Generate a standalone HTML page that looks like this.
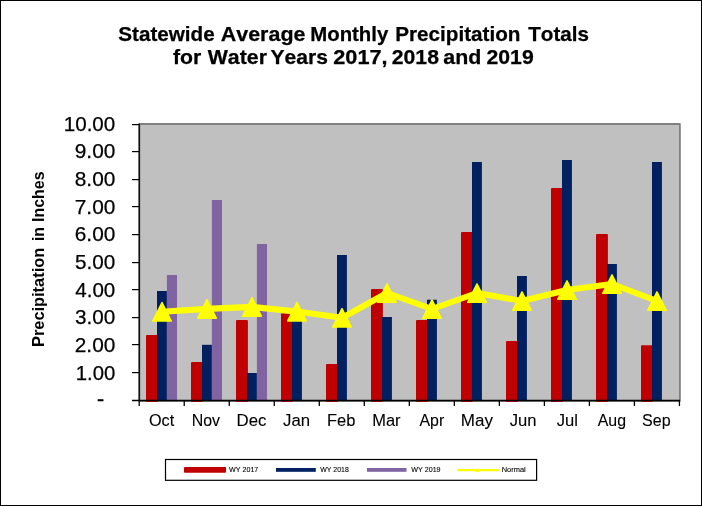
<!DOCTYPE html>
<html><head><meta charset="utf-8"><title>Statewide Average Monthly Precipitation Totals</title>
<style>html,body{margin:0;padding:0;background:#fff;overflow:hidden}svg{display:block}text{font-family:"Liberation Sans",sans-serif;font-kerning:none;fill:#000}</style></head><body>
<svg width="702" height="506" viewBox="0 0 702 506">
<rect x="0" y="0" width="702" height="506" fill="#fff"/>
<rect x="0.5" y="0.5" width="701" height="505" fill="none" stroke="#000" stroke-width="1"/>
<rect x="139.5" y="124" width="540.4" height="277" fill="#c0c0c0" stroke="#808080" stroke-width="1.8" stroke-linejoin="round"/>
<rect x="146" y="335" width="11.9" height="67.00" rx="1" fill="#c00000"/>
<rect x="191" y="362" width="11.9" height="40.00" rx="1" fill="#c00000"/>
<rect x="236" y="320" width="11.9" height="82.00" rx="1" fill="#c00000"/>
<rect x="281" y="313.3" width="11.9" height="88.70" rx="1" fill="#c00000"/>
<rect x="326" y="364" width="11.9" height="38.00" rx="1" fill="#c00000"/>
<rect x="371" y="289" width="11.9" height="113.00" rx="1" fill="#c00000"/>
<rect x="416" y="320" width="11.9" height="82.00" rx="1" fill="#c00000"/>
<rect x="461" y="232" width="11.9" height="170.00" rx="1" fill="#c00000"/>
<rect x="506" y="341" width="11.9" height="61.00" rx="1" fill="#c00000"/>
<rect x="551" y="188" width="11.9" height="214.00" rx="1" fill="#c00000"/>
<rect x="596" y="234" width="11.9" height="168.00" rx="1" fill="#c00000"/>
<rect x="641" y="345.2" width="11.9" height="56.80" rx="1" fill="#c00000"/>
<rect x="157" y="291" width="9.9" height="109.50" fill="#002060"/>
<rect x="202" y="344.8" width="9.9" height="55.70" fill="#002060"/>
<rect x="247" y="373" width="9.9" height="27.50" fill="#002060"/>
<rect x="292" y="318" width="9.9" height="82.50" fill="#002060"/>
<rect x="337" y="255" width="9.9" height="145.50" fill="#002060"/>
<rect x="382" y="317" width="9.9" height="83.50" fill="#002060"/>
<rect x="427" y="299.7" width="9.9" height="100.80" fill="#002060"/>
<rect x="472" y="162" width="9.9" height="238.50" fill="#002060"/>
<rect x="517" y="276" width="9.9" height="124.50" fill="#002060"/>
<rect x="562" y="160" width="9.9" height="240.50" fill="#002060"/>
<rect x="607" y="264" width="9.9" height="136.50" fill="#002060"/>
<rect x="652" y="162" width="9.9" height="238.50" fill="#002060"/>
<rect x="166.9" y="275" width="10.1" height="125.50" fill="#8064a2"/>
<rect x="211.9" y="200" width="10.1" height="200.50" fill="#8064a2"/>
<rect x="256.9" y="244" width="10.1" height="156.50" fill="#8064a2"/>
<g stroke="#000" stroke-width="1.3" fill="none">
<path d="M139.2 123.5V406"/>
<path d="M132 400.5H680"/>
<path d="M132 124.60H139.2" stroke-width="1.2"/>
<path d="M132 151.60H139.2" stroke-width="1.2"/>
<path d="M132 179.60H139.2" stroke-width="1.2"/>
<path d="M132 206.60H139.2" stroke-width="1.2"/>
<path d="M132 234.60H139.2" stroke-width="1.2"/>
<path d="M132 262.60H139.2" stroke-width="1.2"/>
<path d="M132 289.60H139.2" stroke-width="1.2"/>
<path d="M132 317.60H139.2" stroke-width="1.2"/>
<path d="M132 344.60H139.2" stroke-width="1.2"/>
<path d="M132 372.60H139.2" stroke-width="1.2"/>
<path d="M184.22 400.5V406"/>
<path d="M229.24 400.5V406"/>
<path d="M274.26 400.5V406"/>
<path d="M319.28 400.5V406"/>
<path d="M364.30 400.5V406"/>
<path d="M409.32 400.5V406"/>
<path d="M454.34 400.5V406"/>
<path d="M499.36 400.5V406"/>
<path d="M544.38 400.5V406"/>
<path d="M589.40 400.5V406"/>
<path d="M634.42 400.5V406"/>
<path d="M679.44 400.5V406"/>
</g>
<polyline points="162.0,311.7 207.0,308.9 252.0,306.9 297.0,311.6 342.0,317.8 387.0,293.0 432.0,309.0 477.0,293.0 522.0,301.0 567.0,290.0 612.0,284.0 657.0,301.0" fill="none" stroke="#ffff00" stroke-width="6.1" stroke-linejoin="round" stroke-linecap="round"/>
<path d="M162 302.5L171.3 321.0H152.7Z" fill="#ffff00" stroke="#ffff00" stroke-width="1.5" stroke-linejoin="round"/>
<path d="M207 299.7L216.3 318.2H197.7Z" fill="#ffff00" stroke="#ffff00" stroke-width="1.5" stroke-linejoin="round"/>
<path d="M252 297.7L261.3 316.2H242.7Z" fill="#ffff00" stroke="#ffff00" stroke-width="1.5" stroke-linejoin="round"/>
<path d="M297 302.40000000000003L306.3 320.90000000000003H287.7Z" fill="#ffff00" stroke="#ffff00" stroke-width="1.5" stroke-linejoin="round"/>
<path d="M342 308.6L351.3 327.1H332.7Z" fill="#ffff00" stroke="#ffff00" stroke-width="1.5" stroke-linejoin="round"/>
<path d="M387 283.8L396.3 302.3H377.7Z" fill="#ffff00" stroke="#ffff00" stroke-width="1.5" stroke-linejoin="round"/>
<path d="M432 299.8L441.3 318.3H422.7Z" fill="#ffff00" stroke="#ffff00" stroke-width="1.5" stroke-linejoin="round"/>
<path d="M477 283.8L486.3 302.3H467.7Z" fill="#ffff00" stroke="#ffff00" stroke-width="1.5" stroke-linejoin="round"/>
<path d="M522 291.8L531.3 310.3H512.7Z" fill="#ffff00" stroke="#ffff00" stroke-width="1.5" stroke-linejoin="round"/>
<path d="M567 280.8L576.3 299.3H557.7Z" fill="#ffff00" stroke="#ffff00" stroke-width="1.5" stroke-linejoin="round"/>
<path d="M612 274.8L621.3 293.3H602.7Z" fill="#ffff00" stroke="#ffff00" stroke-width="1.5" stroke-linejoin="round"/>
<path d="M657 291.8L666.3 310.3H647.7Z" fill="#ffff00" stroke="#ffff00" stroke-width="1.5" stroke-linejoin="round"/>
<rect x="165.5" y="459.5" width="371.1" height="20.8" fill="#fff" stroke="#000" stroke-width="1.2"/>
<rect x="184" y="467" width="42" height="5.7" rx="0.9" fill="#c00000"/>
<rect x="276" y="468" width="39.8" height="3.8" fill="#002060"/>
<rect x="367" y="468" width="39.5" height="3.8" fill="#8064a2"/>
<path d="M458 470.1H498" stroke="#ffff00" stroke-width="2.2" stroke-linecap="round"/>
<path d="M477 468.4L478.7 471.7H475.3Z" fill="#ffff00" stroke="#ffff00" stroke-width="0.6" stroke-linejoin="round"/>
<text y="40.55" font-size="20.1" font-weight="bold" stroke="#000" stroke-width="0.25"><tspan x="118.25" textLength="96.4" lengthAdjust="spacingAndGlyphs">Statewide</tspan> <tspan x="220.75" textLength="84.67" lengthAdjust="spacingAndGlyphs">Average</tspan> <tspan x="310.25" textLength="78.03" lengthAdjust="spacingAndGlyphs">Monthly</tspan> <tspan x="395.25" textLength="125.21" lengthAdjust="spacingAndGlyphs">Precipitation</tspan> <tspan x="528.25" textLength="60.69" lengthAdjust="spacingAndGlyphs">Totals</tspan></text>
<text y="64.40" font-size="20.1" font-weight="bold" stroke="#000" stroke-width="0.25"><tspan x="173.0" textLength="28.31" lengthAdjust="spacingAndGlyphs">for</tspan> <tspan x="207.75" textLength="59.18" lengthAdjust="spacingAndGlyphs">Water</tspan> <tspan x="270.5" textLength="57.38" lengthAdjust="spacingAndGlyphs">Years</tspan> <tspan x="333.25" textLength="54.33" lengthAdjust="spacingAndGlyphs">2017,</tspan> <tspan x="391.75" textLength="47.18" lengthAdjust="spacingAndGlyphs">2018</tspan> <tspan x="443.25" textLength="38.02" lengthAdjust="spacingAndGlyphs">and</tspan> <tspan x="486.5" textLength="47.18" lengthAdjust="spacingAndGlyphs">2019</tspan></text>
<text x="63.75" y="130.8" font-size="21" stroke="#000" stroke-width="0.25" textLength="51.53" lengthAdjust="spacingAndGlyphs">10.00</text>
<text x="74.75" y="157.7" font-size="21" stroke="#000" stroke-width="0.25" textLength="40.56" lengthAdjust="spacingAndGlyphs">9.00</text>
<text x="74.75" y="185.8" font-size="21" stroke="#000" stroke-width="0.25" textLength="40.56" lengthAdjust="spacingAndGlyphs">8.00</text>
<text x="74.75" y="213.7" font-size="21" stroke="#000" stroke-width="0.25" textLength="40.56" lengthAdjust="spacingAndGlyphs">7.00</text>
<text x="74.75" y="240.8" font-size="21" stroke="#000" stroke-width="0.25" textLength="40.56" lengthAdjust="spacingAndGlyphs">6.00</text>
<text x="75.0" y="268.6" font-size="21" stroke="#000" stroke-width="0.25" textLength="40.3" lengthAdjust="spacingAndGlyphs">5.00</text>
<text x="75.25" y="296.6" font-size="21" stroke="#000" stroke-width="0.25" textLength="40.04" lengthAdjust="spacingAndGlyphs">4.00</text>
<text x="75.0" y="323.6" font-size="21" stroke="#000" stroke-width="0.25" textLength="40.3" lengthAdjust="spacingAndGlyphs">3.00</text>
<text x="74.75" y="351.6" font-size="21" stroke="#000" stroke-width="0.25" textLength="40.56" lengthAdjust="spacingAndGlyphs">2.00</text>
<text x="75.75" y="379.6" font-size="21" stroke="#000" stroke-width="0.25" textLength="39.57" lengthAdjust="spacingAndGlyphs">1.00</text>
<text x="97.0" y="405.6" font-size="20.7" stroke="#000" stroke-width="0.5" textLength="7.11" lengthAdjust="spacingAndGlyphs">-</text>
<text x="149.0" y="425.9" font-size="16.6" stroke="#000" stroke-width="0.1" textLength="25.25" lengthAdjust="spacingAndGlyphs">Oct</text>
<text x="191.75" y="425.9" font-size="16.6" stroke="#000" stroke-width="0.1" textLength="28.33" lengthAdjust="spacingAndGlyphs">Nov</text>
<text x="236.5" y="425.9" font-size="16.6" stroke="#000" stroke-width="0.1" textLength="29.89" lengthAdjust="spacingAndGlyphs">Dec</text>
<text x="283.0" y="425.9" font-size="16.6" stroke="#000" stroke-width="0.1" textLength="27.05" lengthAdjust="spacingAndGlyphs">Jan</text>
<text x="327.0" y="425.9" font-size="16.6" stroke="#000" stroke-width="0.1" textLength="28.37" lengthAdjust="spacingAndGlyphs">Feb</text>
<text x="372.25" y="425.9" font-size="16.6" stroke="#000" stroke-width="0.1" textLength="28.33" lengthAdjust="spacingAndGlyphs">Mar</text>
<text x="419.5" y="425.9" font-size="16.6" stroke="#000" stroke-width="0.1" textLength="24.74" lengthAdjust="spacingAndGlyphs">Apr</text>
<text x="460.75" y="425.9" font-size="16.6" stroke="#000" stroke-width="0.1" textLength="32.14" lengthAdjust="spacingAndGlyphs">May</text>
<text x="509.75" y="425.9" font-size="16.6" stroke="#000" stroke-width="0.1" textLength="26.79" lengthAdjust="spacingAndGlyphs">Jun</text>
<text x="556.75" y="425.9" font-size="16.6" stroke="#000" stroke-width="0.1" textLength="21.19" lengthAdjust="spacingAndGlyphs">Jul</text>
<text x="597.75" y="425.9" font-size="16.6" stroke="#000" stroke-width="0.1" textLength="28.31" lengthAdjust="spacingAndGlyphs">Aug</text>
<text x="642.0" y="425.9" font-size="16.6" stroke="#000" stroke-width="0.1" textLength="28.58" lengthAdjust="spacingAndGlyphs">Sep</text>
<text x="229.0" y="472.0" font-size="7" stroke="#000" stroke-width="0.1" textLength="29.33" lengthAdjust="spacingAndGlyphs">WY 2017</text>
<text x="320.25" y="472.0" font-size="7" stroke="#000" stroke-width="0.1" textLength="28.56" lengthAdjust="spacingAndGlyphs">WY 2018</text>
<text x="411.25" y="472.0" font-size="7" stroke="#000" stroke-width="0.1" textLength="29.33" lengthAdjust="spacingAndGlyphs">WY 2019</text>
<text x="501.75" y="472.0" font-size="7" stroke="#000" stroke-width="0.1" textLength="23.98" lengthAdjust="spacingAndGlyphs">Normal</text>
<text transform="rotate(-90)" y="44.0" font-size="17" font-weight="bold"><tspan x="-347.00" textLength="99.2" lengthAdjust="spacingAndGlyphs">Precipitation</tspan> <tspan x="-241.00" textLength="13.99" lengthAdjust="spacingAndGlyphs">in</tspan> <tspan x="-222.00" textLength="50.5" lengthAdjust="spacingAndGlyphs">Inches</tspan></text>
</svg></body></html>
